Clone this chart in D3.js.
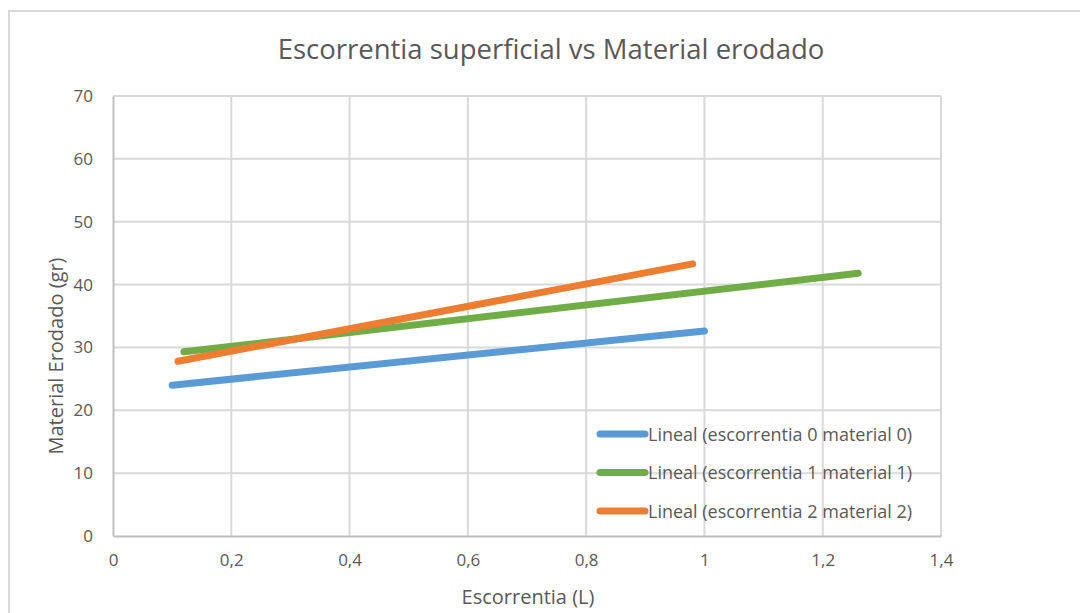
<!DOCTYPE html>
<html>
<head>
<meta charset="utf-8">
<script src="https://cdn.jsdelivr.net/npm/d3@7"></script>
<style>
  html, body { margin: 0; padding: 0; background: #fff; }
  svg { display: block; font-family: "Open Sans", "Noto Sans", sans-serif; }
</style>
</head>
<body>
<svg id="chart" width="1080" height="613"></svg>
<script>
// Linear trend lines: start and end of each fitted range (escorrentia in L, material in gr)
const seriesNames = [
  "Lineal (escorrentia 0 material 0)",
  "Lineal (escorrentia 1 material 1)",
  "Lineal (escorrentia 2 material 2)"
];
const seriesColors = ["#5B9BD5", "#70AD47", "#ED7D31"];
const escorrentia0 = [0.10, 1.00];
const material0 = [24.0, 32.6];
const escorrentia1 = [0.12, 1.26];
const material1 = [29.3, 41.8];
const escorrentia2 = [0.11, 0.98];
const material2 = [27.8, 43.3];

const xTicks = [0, 0.2, 0.4, 0.6, 0.8, 1, 1.2, 1.4];
const yTicks = [0, 10, 20, 30, 40, 50, 60, 70];

const series = [
  { name: seriesNames[0], color: seriesColors[0], xs: escorrentia0, ys: material0 },
  { name: seriesNames[1], color: seriesColors[1], xs: escorrentia1, ys: material1 },
  { name: seriesNames[2], color: seriesColors[2], xs: escorrentia2, ys: material2 }
];

const svg = d3.select("#chart");
const plot = { left: 113, right: 941, top: 96, bottom: 536 };

const x = d3.scaleLinear().domain([0, 1.4]).range([plot.left, plot.right]);
const y = d3.scaleLinear().domain([0, 70]).range([plot.bottom, plot.top]);
const fmt = d => String(+d.toFixed(1)).replace(".", ",");

// chart frame
svg.append("rect")
  .attr("x", 9).attr("y", 11)
  .attr("width", 1100).attr("height", 700)
  .attr("fill", "#fff").attr("stroke", "#D9D9D9").attr("stroke-width", 2);

// title
svg.append("text")
  .attr("x", 551).attr("y", 59)
  .attr("text-anchor", "middle")
  .attr("font-size", 27.5)
  .attr("fill", "#595959")
  .text("Escorrentia superficial vs Material erodado");

// gridlines
const grid = svg.append("g");
grid.selectAll("line.h").data(yTicks.filter(d => d > 0)).join("line")
  .attr("x1", plot.left).attr("x2", plot.right)
  .attr("y1", d => y(d)).attr("y2", d => y(d))
  .attr("stroke", "#D9D9D9").attr("stroke-width", 2);
grid.selectAll("line.v").data(xTicks.filter(d => d > 0)).join("line")
  .attr("y1", plot.top).attr("y2", plot.bottom)
  .attr("x1", d => x(d)).attr("x2", d => x(d))
  .attr("stroke", "#D9D9D9").attr("stroke-width", 2);

// axes
const xAxis = svg.append("g")
  .attr("transform", `translate(0,${plot.bottom})`)
  .call(d3.axisBottom(x).tickValues(xTicks).tickFormat(fmt).tickSize(0).tickPadding(18));
const yAxis = svg.append("g")
  .attr("transform", `translate(${plot.left},0)`)
  .call(d3.axisLeft(y).tickValues(yTicks).tickFormat(d => d).tickSize(0).tickPadding(20));
[xAxis, yAxis].forEach(a => {
  a.select(".domain").attr("stroke", "#BFBFBF").attr("stroke-width", 2);
  a.selectAll("text").attr("fill", "#595959").attr("font-size", 17)
    .attr("font-family", "'Open Sans', 'Noto Sans', sans-serif");
});

// axis titles
svg.append("text")
  .attr("x", 528).attr("y", 604)
  .attr("text-anchor", "middle")
  .attr("font-size", 20).attr("fill", "#595959")
  .text("Escorrentia (L)");
svg.append("text")
  .attr("transform", "translate(63,356) rotate(-90)")
  .attr("text-anchor", "middle")
  .attr("font-size", 20).attr("fill", "#595959")
  .text("Material Erodado (gr)");

// trend lines
const line = d3.line().x(d => x(d[0])).y(d => y(d[1]));
svg.append("g").selectAll("path").data(series).join("path")
  .attr("d", s => line(s.xs.map((v, i) => [v, s.ys[i]])))
  .attr("fill", "none")
  .attr("stroke", s => s.color)
  .attr("stroke-width", 7)
  .attr("stroke-linecap", "round");

// legend
const legend = svg.append("g");
const rows = legend.selectAll("g").data(series).join("g")
  .attr("transform", (s, i) => `translate(600,${434 + i * 38.5})`);
rows.append("line")
  .attr("x1", 0).attr("x2", 45).attr("y1", 0).attr("y2", 0)
  .attr("stroke", s => s.color).attr("stroke-width", 7)
  .attr("stroke-linecap", "round");
rows.append("text")
  .attr("x", 48).attr("y", 6.5)
  .attr("font-size", 18).attr("fill", "#595959")
  .text(s => s.name);
</script>
</body>
</html>
